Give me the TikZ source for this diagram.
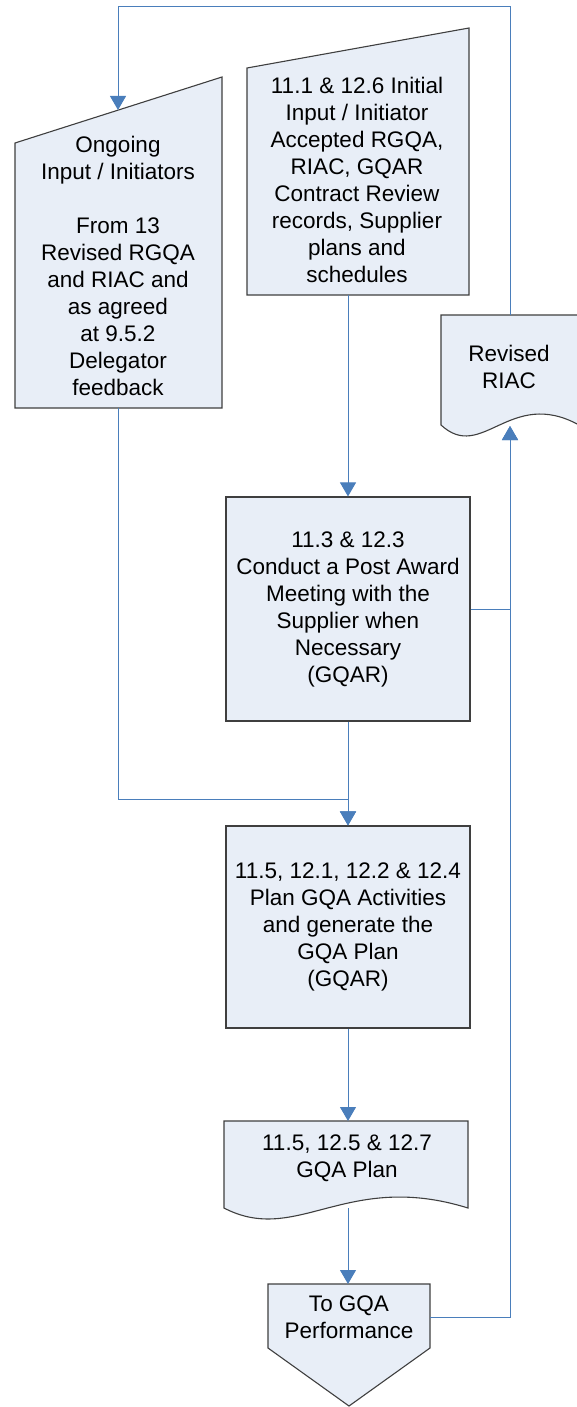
\documentclass[tikz,border=0pt]{standalone}
\usepackage{fontspec}
\setmainfont{Liberation Sans}
\usetikzlibrary{arrows.meta}

\definecolor{boxfill}{HTML}{E8EEF7}
\definecolor{boxline}{HTML}{3F3F3F}
\definecolor{linkblue}{HTML}{4A7EBB}

\tikzset{
  outline/.style={draw=boxline, fill=boxfill, line width=1.1pt, line join=miter},
  flowtext/.style={align=center, inner sep=0pt, font=\fontsize{22.5}{27}\selectfont},
  process/.style={outline, flowtext, minimum width=244pt, minimum height=224pt},
  link/.style={draw=linkblue, line width=1pt},
  linkarrow/.style={link, -{Triangle[length=14pt, width=16pt]}},
}

\begin{document}
\begin{tikzpicture}[x=1pt, y=-1pt]
	\useasboundingbox (0,0) rectangle (576,1407);

	% manual input shapes
	\draw[outline] (15,143) -- (222,77) -- (222,408) -- (15,408) -- cycle;
	\draw[outline] (247,68) -- (469,28) -- (469,295) -- (247,295) -- cycle;
	% documents
	\draw[outline] (441,315) -- (579,315) -- (579,425)
		.. controls (510,387) and (482,463) .. (441,425) -- cycle;
	\draw[outline] (224,1121) -- (468,1121) -- (468,1208)
		.. controls (346,1170) and (297,1246) .. (224,1208) -- cycle;
	% off-page reference
	\draw[outline] (268,1284) -- (430,1284) -- (430,1348) -- (349,1406) -- (268,1348) -- cycle;

	\node[flowtext] (ongoing) at (118,266) {Ongoing\\Input / Initiators\\[27pt]From 13\\Revised RGQA\\and RIAC and\\as agreed\\at 9.5.2\\Delegator\\feedback};
	\node[flowtext] (initial) at (357,180) {11.1 \& 12.6 Initial\\Input / Initiator\\Accepted RGQA,\\RIAC, GQAR\\Contract Review\\records, Supplier\\plans and\\schedules};
	\node[flowtext] (riac) at (509,367) {Revised\\RIAC};
	\node[process] (conduct) at (348,609) {11.3 \& 12.3\\Conduct a Post Award\\Meeting with the\\Supplier when\\Necessary\\(GQAR)};
	\node[process, minimum height=202pt] (plan) at (348,927) {11.5, 12.1, 12.2 \& 12.4\\Plan GQA Activities\\and generate the\\GQA Plan\\(GQAR)};
	\node[flowtext] (gqaplan) at (347,1158) {11.5, 12.5 \& 12.7\\GQA Plan};
	\node[flowtext, minimum width=162pt] (perf) at (349,1317) {To GQA\\Performance};

	% connection points on the drawn outlines
	\coordinate (ong-in) at (118,110);
	\coordinate (ong-out) at (118,408);
	\coordinate (init-out) at (348,295);
	\coordinate (riac-top) at (510,315);
	\coordinate (riac-in) at (510,426);
	\coordinate (doc-top) at (348,1121);
	\coordinate (doc-out) at (348,1208);
	\coordinate (perf-in) at (348,1284);
	\coordinate (loop) at (118,7);
	\coordinate (merge) at (348,799);

	\draw[linkarrow] (riac-top) |- (loop) -- (ong-in);
	\draw[linkarrow] (init-out) -- (conduct.north);
	\draw[linkarrow] (conduct.east) -| (riac-in);
	\draw[linkarrow] (perf.east) -| (riac-in);
	\draw[linkarrow] (ong-out) |- (merge) -- (plan.north);
	\draw[linkarrow] (conduct.south) -- (plan.north);
	\draw[linkarrow] (plan.south) -- (doc-top);
	\draw[linkarrow] (doc-out) -- (perf-in);
\end{tikzpicture}
\end{document}
